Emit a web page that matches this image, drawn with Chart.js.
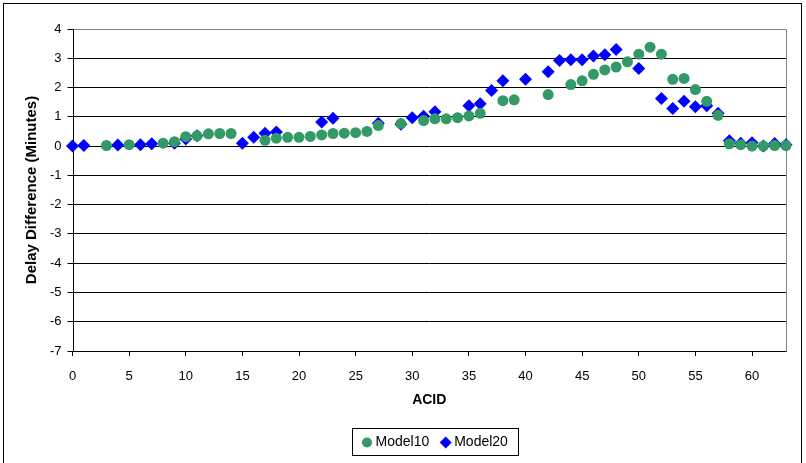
<!DOCTYPE html>
<html>
<head>
<meta charset="utf-8">
<script src="https://cdn.jsdelivr.net/npm/chart.js@4"></script>
<style>
  html, body { margin: 0; padding: 0; background: #fff; }
  #wrap { position: relative; width: 806px; height: 463px; }
</style>
</head>
<body>
<div id="wrap"><canvas id="c" width="806" height="463"></canvas></div>
<script>
// ACID ids and delay differences (minutes) for each model
const model10Acid = [3,5,8,9,10,11,12,13,14,17,18,19,20,21,22,23,24,25,26,27,29,31,32,33,34,35,36,38,39,42,44,45,46,47,48,49,50,51,52,53,54,55,56,57,58,59,60,61,62,63];
const model10Delay = [0.02,0.05,0.1,0.15,0.32,0.35,0.42,0.43,0.43,0.2,0.27,0.3,0.3,0.33,0.38,0.43,0.44,0.46,0.5,0.7,0.77,0.87,0.93,0.93,0.97,1.03,1.12,1.55,1.58,1.76,2.1,2.23,2.45,2.6,2.7,2.88,3.14,3.38,3.14,2.28,2.31,1.93,1.53,1.05,0.08,0.05,0.0,0.0,0.02,0.02];

const model20Acid = [0,1,4,6,7,9,10,11,15,16,17,18,22,23,27,29,30,31,32,35,36,37,38,40,42,43,44,45,46,47,48,50,52,53,54,55,56,57,58,59,60,61,62,63];
const model20Delay = [0.0,0.02,0.04,0.05,0.08,0.1,0.24,0.35,0.1,0.3,0.44,0.48,0.82,0.95,0.78,0.75,0.97,1.02,1.17,1.38,1.45,1.9,2.23,2.28,2.54,2.92,2.95,2.95,3.08,3.12,3.3,2.65,1.63,1.28,1.53,1.34,1.38,1.12,0.18,0.1,0.11,0.0,0.09,0.05];

const xTickStep = 5;
const yTickValues = [4,3,2,1,0,-1,-2,-3,-4,-5,-6,-7];

const GREEN = '#339966';
const BLUE = '#0000FF';
const FONT = '"Liberation Sans", Arial, sans-serif';

const toPoints = (xs, ys) => xs.map((x, i) => ({ x: x, y: ys[i] }));

// frame, plot border and boxed legend
const decorations = {
  id: 'decorations',
  beforeDraw(chart) {
    const ctx = chart.ctx;
    ctx.save();
    ctx.fillStyle = '#fff';
    ctx.fillRect(0, 0, chart.width, chart.height);
    ctx.restore();
  },
  beforeDatasetsDraw(chart) {
    const ctx = chart.ctx;
    const a = chart.chartArea;
    const L = Math.round(a.left) + 0.5, R = Math.round(a.right) + 0.5;
    const T = Math.round(a.top) + 0.5, B = Math.round(a.bottom) + 0.5;
    ctx.save();
    ctx.lineWidth = 1;
    // grey top/right edges of the plot, black axes on left/bottom
    ctx.strokeStyle = '#808080';
    ctx.beginPath();
    ctx.moveTo(L, T);
    ctx.lineTo(R, T);
    ctx.lineTo(R, B);
    ctx.stroke();
    ctx.strokeStyle = '#000';
    ctx.beginPath();
    ctx.moveTo(L, T);
    ctx.lineTo(L, B);
    ctx.lineTo(R, B);
    ctx.stroke();
    ctx.restore();
  },
  afterDatasetsDraw(chart) {
    const ctx = chart.ctx;
    ctx.save();
    // outer frame
    ctx.lineWidth = 1;
    ctx.strokeStyle = '#000';
    ctx.strokeRect(3.5, 3.5, 798, 470);

    // legend
    const items = chart.data.datasets;
    ctx.font = '14px ' + FONT;
    ctx.textBaseline = 'middle';
    const gap = 9, sym = 14, pad = 9;
    let total = 0;
    const widths = items.map(d => ctx.measureText(d.label).width);
    widths.forEach(w => total += sym + 2 + w);
    total += gap * (items.length - 1) + pad * 2;
    total = Math.round(total);
    const bx = Math.round(435 - total / 2) + 0.5;
    const by = 428.5, bh = 27;
    ctx.strokeStyle = '#000';
    ctx.strokeRect(bx, by, total, bh);
    let x = bx + pad;
    const cy = by + bh / 2 + 0.5;
    items.forEach((d, i) => {
      ctx.fillStyle = d.backgroundColor;
      ctx.beginPath();
      if (d.pointStyle === 'rectRot') {
        ctx.moveTo(x + 5.5, cy - 6);
        ctx.lineTo(x + 11.5, cy);
        ctx.lineTo(x + 5.5, cy + 6);
        ctx.lineTo(x - 0.5, cy);
        ctx.closePath();
      } else {
        ctx.arc(x + 5.5, cy, 5, 0, Math.PI * 2);
      }
      ctx.fill();
      ctx.fillStyle = '#000';
      ctx.fillText(d.label, x + sym, cy);
      x += sym + 2 + widths[i] + gap;
    });
    ctx.restore();
  }
};

new Chart(document.getElementById('c'), {
  type: 'scatter',
  data: {
    datasets: [
      {
        label: 'Model10',
        data: toPoints(model10Acid, model10Delay),
        pointStyle: 'circle',
        pointRadius: 5.5,
        pointHoverRadius: 5.5,
        backgroundColor: GREEN,
        borderColor: GREEN,
        borderWidth: 0,
        clip: false
      },
      {
        label: 'Model20',
        data: toPoints(model20Acid, model20Delay),
        pointStyle: 'rectRot',
        pointRadius: 6.5,
        pointHoverRadius: 6.5,
        backgroundColor: BLUE,
        borderColor: BLUE,
        borderWidth: 0,
        clip: false
      }
    ]
  },
  options: {
    responsive: false,
    animation: false,
    layout: { padding: { top: 29, right: 20, left: 23, bottom: 52 } },
    plugins: {
      legend: { display: false },
      tooltip: { enabled: false }
    },
    scales: {
      x: {
        type: 'linear',
        min: 0,
        max: 63,
        border: { display: false },
        grid: { drawOnChartArea: false, drawTicks: true, tickLength: 5, color: '#000' },
        ticks: {
          stepSize: xTickStep,
          color: '#000',
          font: { family: FONT, size: 13 },
          padding: 13,
          maxRotation: 0
        },
        afterBuildTicks(scale) {
          scale.ticks = scale.ticks.filter(t => t.value % xTickStep === 0);
        },
        afterFit(scale) { scale.height = 60; },
        title: {
          display: true,
          text: 'ACID',
          color: '#000',
          font: { family: FONT, size: 14, weight: 'bold' },
          padding: { top: 0, bottom: 2 }
        }
      },
      y: {
        type: 'linear',
        min: -7,
        max: 4,
        border: { display: false },
        grid: { color: '#000', lineWidth: 1, drawTicks: true, tickLength: 5 },
        ticks: {
          stepSize: 1,
          color: '#000',
          font: { family: FONT, size: 13 },
          padding: 6
        },
        afterBuildTicks(scale) {
          scale.ticks = yTickValues.map(v => ({ value: v }));
        },
        afterFit(scale) { scale.width = 49.5; },
        title: {
          display: true,
          text: 'Delay Difference (Minutes)',
          color: '#000',
          font: { family: FONT, size: 15, weight: 'bold' },
          padding: { top: 0, bottom: 0 }
        }
      }
    }
  },
  plugins: [decorations]
});
</script>
</body>
</html>
